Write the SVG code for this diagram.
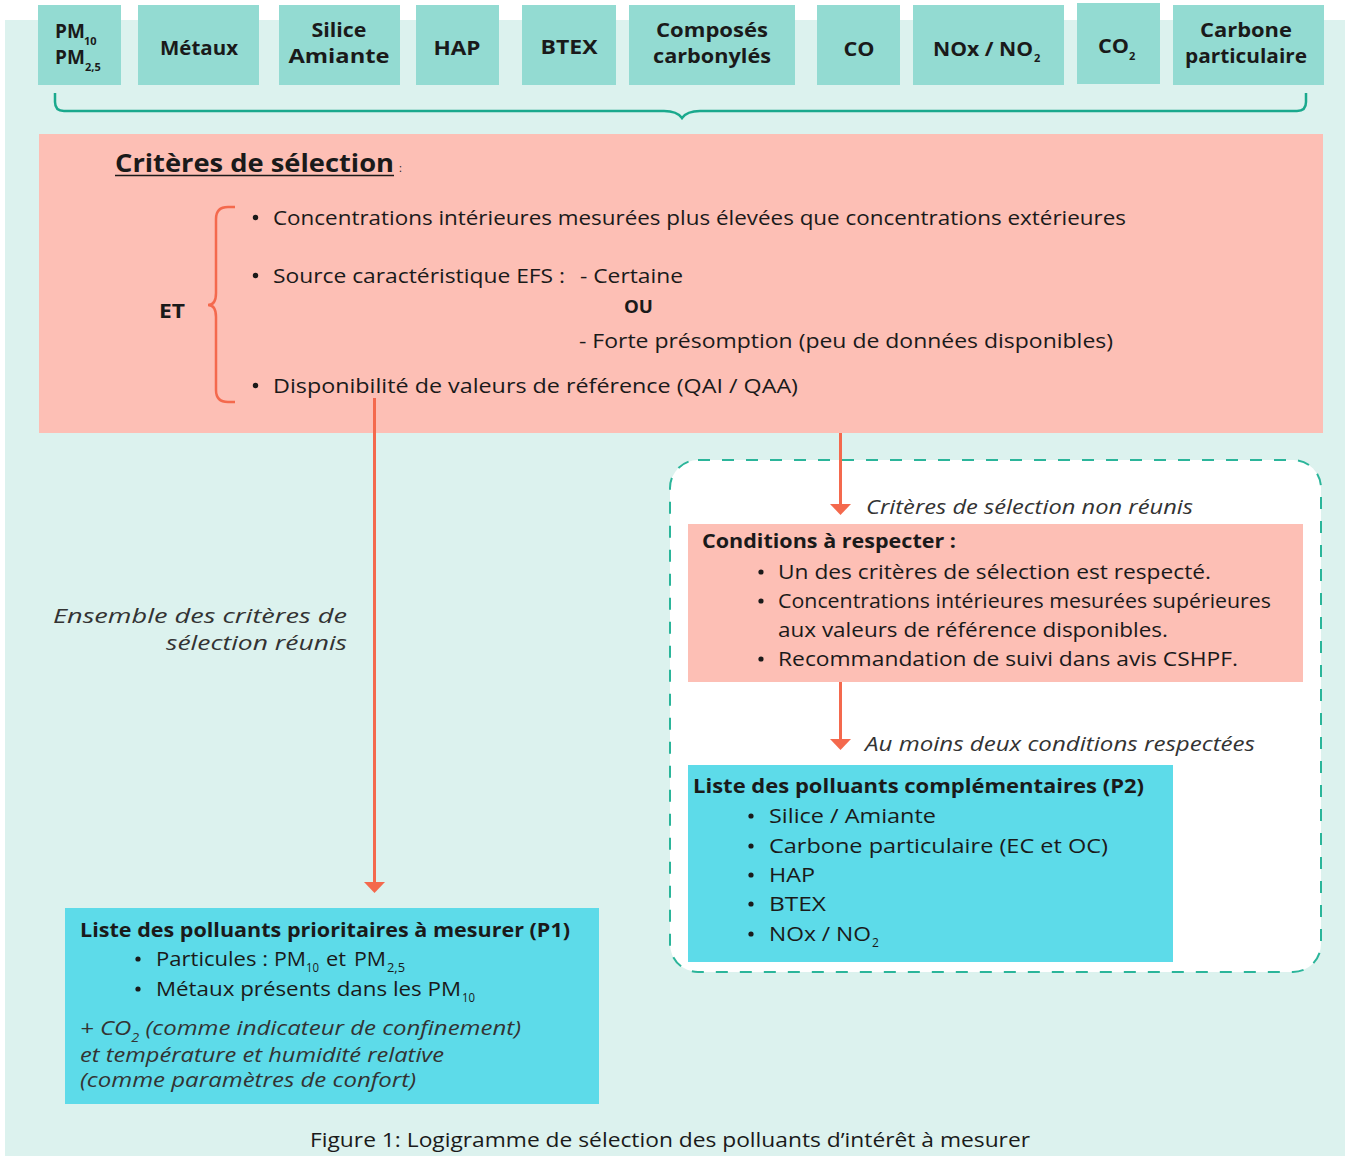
<svg xmlns="http://www.w3.org/2000/svg" width="1348" height="1156" viewBox="0 0 1348 1156">
<defs>
<style>
text{font-family:"Open Sans","DejaVu Sans",sans-serif;fill:#1a1a1a}
.b{font-weight:bold}
.top{font-weight:bold;font-size:19px}
.r{font-size:20px}
.i{font-size:20px;font-style:italic;fill:#333}
.sub{font-size:11px}
.subr{font-size:12px}
.tbox{fill:#93dbd2}
.pink{fill:#fdbfb5}
.cyan{fill:#5ddbe9}
.dot{fill:#1a1a1a}
.arr{stroke:#f4694d;stroke-width:3;fill:none}
.head{fill:#f4694d}
</style>
</defs>
<rect x="5" y="20" width="1340" height="1136" fill="#dcf2ee"/>

<g id="top-pm"><rect class="tbox" x="38" y="5" width="83" height="80"/>
<text class="top" x="55" y="38">PM</text><text class="top sub" x="84" y="45">10</text>
<text class="top" x="55" y="64">PM</text><text class="top sub" x="85" y="71">2,5</text></g>
<g id="top-metaux"><rect class="tbox" x="138" y="5" width="121" height="80"/>
<text class="top" x="199" y="55" text-anchor="middle" textLength="78" lengthAdjust="spacingAndGlyphs">Métaux</text></g>
<g id="top-silice"><rect class="tbox" x="279" y="5" width="121" height="80"/>
<text class="top" x="339" y="37" text-anchor="middle" textLength="55" lengthAdjust="spacingAndGlyphs">Silice</text>
<text class="top" x="339" y="63" text-anchor="middle" textLength="101" lengthAdjust="spacingAndGlyphs">Amiante</text></g>
<g id="top-hap"><rect class="tbox" x="416" y="5" width="83" height="80"/>
<text class="top" x="457" y="55" text-anchor="middle" textLength="47" lengthAdjust="spacingAndGlyphs">HAP</text></g>
<g id="top-btex"><rect class="tbox" x="522" y="5" width="94" height="80"/>
<text class="top" x="569" y="54" text-anchor="middle" textLength="57" lengthAdjust="spacingAndGlyphs">BTEX</text></g>
<g id="top-composes"><rect class="tbox" x="629" y="5" width="166" height="80"/>
<text class="top" x="712" y="37" text-anchor="middle" textLength="112" lengthAdjust="spacingAndGlyphs">Composés</text>
<text class="top" x="712" y="63" text-anchor="middle" textLength="118" lengthAdjust="spacingAndGlyphs">carbonylés</text></g>
<g id="top-co"><rect class="tbox" x="817" y="5" width="83" height="80"/>
<text class="top" x="859" y="56" text-anchor="middle" textLength="31" lengthAdjust="spacingAndGlyphs">CO</text></g>
<g id="top-nox"><rect class="tbox" x="913" y="5" width="151" height="80"/>
<text class="top" x="933" y="56" textLength="100" lengthAdjust="spacingAndGlyphs">NOx / NO</text><text class="top sub" x="1034" y="62">2</text></g>
<g id="top-co2"><rect class="tbox" x="1077" y="3" width="83" height="81"/>
<text class="top" x="1098" y="53" textLength="31" lengthAdjust="spacingAndGlyphs">CO</text><text class="top sub" x="1129" y="60">2</text></g>
<g id="top-carbone"><rect class="tbox" x="1173" y="5" width="151" height="80"/>
<text class="top" x="1246" y="37" text-anchor="middle" textLength="92" lengthAdjust="spacingAndGlyphs">Carbone</text>
<text class="top" x="1246" y="63" text-anchor="middle" textLength="122" lengthAdjust="spacingAndGlyphs">particulaire</text></g>

<g id="criteres">
<rect class="pink" x="39" y="134" width="1284" height="299"/>
<text class="b" x="115" y="172" font-size="25" textLength="279" lengthAdjust="spacingAndGlyphs">Critères de sélection</text>
<line x1="115" y1="175.5" x2="394" y2="175.5" stroke="#1a1a1a" stroke-width="1.6"/>
<text x="399" y="172" font-size="11">:</text>
<text class="b" x="159" y="318" font-size="20" textLength="26" lengthAdjust="spacingAndGlyphs">ET</text>
<path d="M235,207 H228 Q216,207 216,219 V293 Q216,305 208,305 Q216,305 216,317 V390 Q216,402 228,402 H235" stroke="#f4694d" stroke-width="2.5" fill="none"/>
<circle class="dot" cx="255.5" cy="217.5" r="2.7"/>
<circle class="dot" cx="255.5" cy="275.5" r="2.7"/>
<circle class="dot" cx="255.5" cy="385.5" r="2.7"/>
<text class="r" x="273" y="225" textLength="853" lengthAdjust="spacingAndGlyphs">Concentrations intérieures mesurées plus élevées que concentrations extérieures</text>
<text class="r" x="273" y="283" textLength="292" lengthAdjust="spacingAndGlyphs">Source caractéristique EFS :</text>
<text class="r" x="580" y="283" textLength="103" lengthAdjust="spacingAndGlyphs">- Certaine</text>
<text class="b" x="624" y="313" font-size="17" textLength="29" lengthAdjust="spacingAndGlyphs">OU</text>
<text class="r" x="579" y="348" textLength="534" lengthAdjust="spacingAndGlyphs">- Forte présomption (peu de données disponibles)</text>
<text class="r" x="273" y="393" textLength="525" lengthAdjust="spacingAndGlyphs">Disponibilité de valeurs de référence (QAI / QAA)</text>
</g>

<g id="label-reunis">
<text class="i" x="347" y="623" text-anchor="end" textLength="294" lengthAdjust="spacingAndGlyphs">Ensemble des critères de</text>
<text class="i" x="347" y="650" text-anchor="end" textLength="181" lengthAdjust="spacingAndGlyphs">sélection réunis</text>
</g>

<g id="zone-non-reunis">
<rect x="670" y="460" width="651" height="512" rx="28" fill="#ffffff" stroke="#2bb59a" stroke-width="2" stroke-dasharray="12 12"/>
<text class="i" x="866" y="514" textLength="327" lengthAdjust="spacingAndGlyphs">Critères de sélection non réunis</text>
<text class="i" x="865" y="751" textLength="390" lengthAdjust="spacingAndGlyphs">Au moins deux conditions respectées</text>
</g>

<g id="conditions">
<rect class="pink" x="688" y="524" width="615" height="158"/>
<text class="b" x="702" y="548" font-size="19" textLength="254" lengthAdjust="spacingAndGlyphs">Conditions à respecter :</text>
<circle class="dot" cx="761" cy="572" r="2.6"/>
<circle class="dot" cx="761" cy="601" r="2.6"/>
<circle class="dot" cx="761" cy="659" r="2.6"/>
<text class="r" x="778" y="579" textLength="433" lengthAdjust="spacingAndGlyphs">Un des critères de sélection est respecté.</text>
<text class="r" x="778" y="608" textLength="493" lengthAdjust="spacingAndGlyphs">Concentrations intérieures mesurées supérieures</text>
<text class="r" x="778" y="637" textLength="390" lengthAdjust="spacingAndGlyphs">aux valeurs de référence disponibles.</text>
<text class="r" x="778" y="666" textLength="460" lengthAdjust="spacingAndGlyphs">Recommandation de suivi dans avis CSHPF.</text>
</g>

<g id="p2">
<rect class="cyan" x="688" y="765" width="485" height="197"/>
<text class="b" x="693" y="793" font-size="19" textLength="451" lengthAdjust="spacingAndGlyphs">Liste des polluants complémentaires (P2)</text>
<circle class="dot" cx="751" cy="816" r="2.6"/>
<circle class="dot" cx="751" cy="846" r="2.6"/>
<circle class="dot" cx="751" cy="875" r="2.6"/>
<circle class="dot" cx="751" cy="904" r="2.6"/>
<circle class="dot" cx="751" cy="934" r="2.6"/>
<text class="r" x="769" y="823" textLength="167" lengthAdjust="spacingAndGlyphs">Silice / Amiante</text>
<text class="r" x="769" y="853" textLength="339" lengthAdjust="spacingAndGlyphs">Carbone particulaire (EC et OC)</text>
<text class="r" x="769" y="882" textLength="46" lengthAdjust="spacingAndGlyphs">HAP</text>
<text class="r" x="769" y="911" textLength="57" lengthAdjust="spacingAndGlyphs">BTEX</text>
<text class="r" x="769" y="941" textLength="102" lengthAdjust="spacingAndGlyphs">NOx / NO</text>
<text class="subr" x="872" y="947">2</text>
</g>

<g id="p1">
<rect class="cyan" x="65" y="908" width="534" height="196"/>
<text class="b" x="80" y="937" font-size="19" textLength="490" lengthAdjust="spacingAndGlyphs">Liste des polluants prioritaires à mesurer (P1)</text>
<circle class="dot" cx="138" cy="959" r="2.6"/>
<circle class="dot" cx="138" cy="989" r="2.6"/>
<text class="r" x="156" y="966" textLength="112" lengthAdjust="spacingAndGlyphs">Particules :</text>
<text class="r" x="274" y="966" textLength="32" lengthAdjust="spacingAndGlyphs">PM</text>
<text class="subr" x="306" y="972" textLength="13" lengthAdjust="spacingAndGlyphs">10</text>
<text class="r" x="326" y="966" textLength="20" lengthAdjust="spacingAndGlyphs">et</text>
<text class="r" x="354" y="966" textLength="32" lengthAdjust="spacingAndGlyphs">PM</text>
<text class="subr" x="387" y="972" textLength="18" lengthAdjust="spacingAndGlyphs">2,5</text>
<text class="r" x="156" y="996" textLength="305" lengthAdjust="spacingAndGlyphs">Métaux présents dans les PM</text>
<text class="subr" x="462" y="1002" textLength="13" lengthAdjust="spacingAndGlyphs">10</text>
<text class="i" x="80" y="1035" textLength="441" lengthAdjust="spacingAndGlyphs">+ CO<tspan font-size="12" dy="7">2</tspan><tspan dy="-7"> (comme indicateur de confinement)</tspan></text>
<text class="i" x="80" y="1062" textLength="364" lengthAdjust="spacingAndGlyphs">et température et humidité relative</text>
<text class="i" x="80" y="1087" textLength="336" lengthAdjust="spacingAndGlyphs">(comme paramètres de confort)</text>
</g>

<text class="r" x="670" y="1147" text-anchor="middle" textLength="720" lengthAdjust="spacingAndGlyphs">Figure 1: Logigramme de sélection des polluants d’intérêt à mesurer</text>

<g id="connectors">
<path d="M55,93 V102 Q55,111 64,111 H664 Q677,111 682,118 Q687,111 700,111 H1297 Q1306,111 1306,102 V93" stroke="#1aa98d" stroke-width="2.5" fill="none"/>
<line class="arr" x1="374.5" y1="398" x2="374.5" y2="884"/>
<polygon class="head" points="364,882 385,882 374.5,893"/>
<line class="arr" x1="840.5" y1="433" x2="840.5" y2="506"/>
<polygon class="head" points="830,504 851,504 840.5,515"/>
<line class="arr" x1="840.5" y1="682" x2="840.5" y2="741"/>
<polygon class="head" points="830,739 851,739 840.5,750"/>
</g>
</svg>
